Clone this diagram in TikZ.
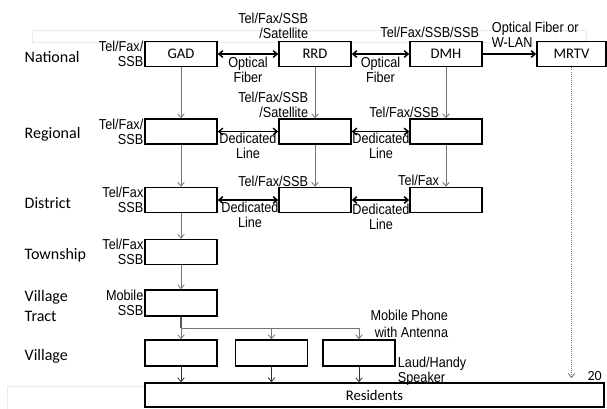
\documentclass[tikz,border=0pt]{standalone}
\usepackage{fontspec}
\setmainfont{Carlito}
\newfontfamily\lblfont[FakeStretch=0.88]{Liberation Sans}
\usetikzlibrary{arrows.meta}

\begin{document}
\begin{tikzpicture}[
  x=0.75pt, y=-0.75pt,
  >={Straight Barb[length=3pt,width=5pt]},
  box/.style={draw, line width=1.1pt, minimum width=54pt, minimum height=18.75pt,
    inner sep=0pt, font=\fontsize{11}{13}\selectfont},
  level/.style={anchor=west, align=left, font=\fontsize{12}{15}\selectfont},
  lbl/.style={align=right, inner sep=0.5pt, font=\lblfont\fontsize{10.8}{11.25}\selectfont},
  link/.style={<->, line width=1.1pt},
  feed/.style={->, black!55, line width=0.6pt},
  ghost/.style={draw=black!8, line width=0.5pt}
]
  \useasboundingbox (0,0) rectangle (607,408);
  \draw[ghost] (32,30) rectangle (586,42);
  \draw[ghost] (7,409) -- (7,386) -- (145,386);

  % levels
  \node[level] (nat) at (20,56.5) {National};
  \node[level] (reg) at (20,134) {Regional};
  \node[level] (dis) at (20,203) {District};
  \node[level] (tsp) at (20,255) {Township};
  \node[level] (vtr) at (20,306) {Village\\Tract};
  \node[level] (vil) at (20,356) {Village};

  % offices
  \node[box] (gad) at (181,54) {GAD};
  \node[box] (rrd) at (315,54) {RRD};
  \node[box] (dmh) at (446,54) {DMH};
  \node[box, minimum width=51.75pt] (mrtv) at (571.5,54) {MRTV};
  \node[box] (reg1) at (181,131.5) {};
  \node[box] (reg2) at (315,131.5) {};
  \node[box] (reg3) at (446,131.5) {};
  \node[box] (dis1) at (181,200) {};
  \node[box] (dis2) at (315,200) {};
  \node[box] (dis3) at (446,200) {};
  \node[box] (tsp1) at (181,252) {};
  \node[box, minimum height=19.5pt] (vt1) at (181,303) {};
  \node[box, minimum height=19.5pt] (vil1) at (181,353) {};
  \node[box, minimum height=19.5pt] (vil2) at (271.5,353) {};
  \node[box, minimum height=19.5pt] (vil3) at (359,353) {};
  \node[box, minimum width=344.25pt, minimum height=18pt] (res) at (374.5,395) {Residents};

  % means at each office
  \node[lbl, anchor=east] (mgad) at (gad.west) {Tel/Fax/\\SSB};
  \node[lbl, anchor=east] (mreg1) at (reg1.west) {Tel/Fax/\\SSB};
  \node[lbl, anchor=east] (mdis1) at (dis1.west) {Tel/Fax\\SSB};
  \node[lbl, anchor=east] (mtsp1) at (tsp1.west) {Tel/Fax\\SSB};
  \node[lbl, anchor=east] (mvt1) at (vt1.west) {Mobile\\SSB};
  \node[lbl, anchor=north east] (mrrd) at (309,12) {Tel/Fax/SSB\\/Satellite};
  \node[lbl, anchor=north east] (mdmh) at (480,26) {Tel/Fax/SSB/SSB};
  \node[lbl, anchor=north west, align=left] (mmrtv) at (491,21) {Optical Fiber or\\W-LAN};
  \node[lbl, anchor=north east] (mreg2) at (309,91) {Tel/Fax/SSB\\/Satellite};
  \node[lbl, anchor=north east] (mreg3) at (440,106) {Tel/Fax/SSB};
  \node[lbl, anchor=north east] (mdis2) at (309,175) {Tel/Fax/SSB};
  \node[lbl, anchor=north east] (mdis3) at (440,174) {Tel/Fax};
  \node[lbl, anchor=north east, font=\lblfont\fontsize{10.8}{12.5}\selectfont] (mphone) at (449,309) {Mobile Phone\\with Antenna};
  \node[lbl, anchor=north west, align=left] (mspk) at (397,356) {Laud/Handy\\Speaker};

  % lines between offices
  \draw[link] (gad) -- (rrd);
  \draw[link] (rrd) -- (dmh);
  \draw[->, line width=1.1pt] (dmh) -- (mrtv);
  \draw[link] (reg1) -- (reg2);
  \draw[link] (reg2) -- (reg3);
  \draw[link] (dis1) -- (dis2);
  \draw[link] (dis2) -- (dis3);
  \node[lbl, anchor=north, align=center] (opt1) at (248,56) {Optical\\Fiber};
  \node[lbl, anchor=north, align=center] (opt2) at (380.5,56) {Optical\\Fiber};
  \node[lbl, anchor=north, align=center] (ded1) at (248,132) {Dedicated\\Line};
  \node[lbl, anchor=north, align=center] (ded2) at (381,132) {Dedicated\\Line};
  \node[lbl, anchor=north, align=center] (ded3) at (250,201) {Dedicated\\Line};
  \node[lbl, anchor=north, align=center] (ded4) at (381,203) {Dedicated\\Line};

  % down the levels
  \draw[feed] (gad) -- (reg1);
  \draw[feed] (rrd) -- (reg2);
  \draw[feed] (dmh) -- (reg3);
  \draw[feed] (reg1) -- (dis1);
  \draw[feed] (reg2) -- (dis2);
  \draw[feed] (reg3) -- (dis3);
  \draw[feed] (dis1) -- (tsp1);
  \draw[feed] (tsp1) -- (vt1);
  \coordinate (fork) at (181,328);
  \draw[black!65, line width=0.9pt] (vt1) -- (fork);
  \draw[feed] (fork) -- (vil1);
  \draw[feed] (fork) -| (vil3);
  \draw[feed] (fork -| vil2) -- (vil2);
  \draw[feed, black!80] (vil1) -- (vil1 |- res.north);
  \draw[feed, black!80] (vil2) -- (vil2 |- res.north);
  \draw[feed, black!80] (vil3) -- (vil3 |- res.north);
  \coordinate (tv) at (572,378);
  \draw[feed, densely dotted] (mrtv) -- (mrtv |- tv);

  \node[anchor=east, inner sep=0pt, font=\fontsize{10.5}{12}\selectfont] (pg) at (602,376) {20};
\end{tikzpicture}
\end{document}
